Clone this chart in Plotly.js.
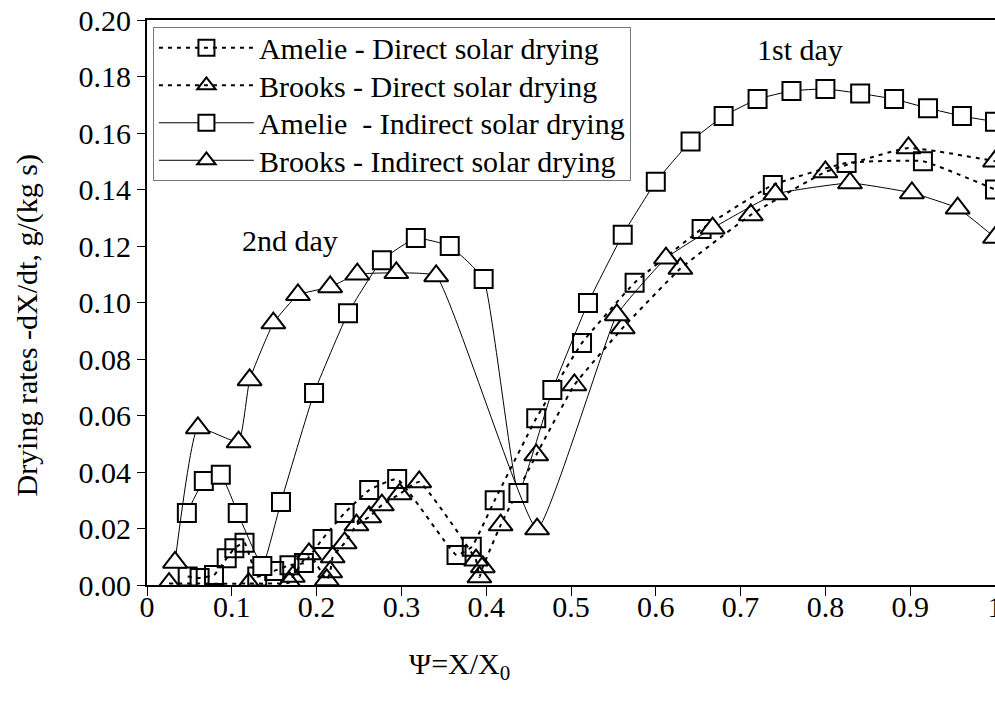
<!DOCTYPE html>
<html><head><meta charset="utf-8">
<script src="https://cdn.plot.ly/plotly-3.0.1.min.js"></script>
<style>html,body{margin:0;padding:0;background:#fff;}#chart{width:995px;height:704px;}</style>
</head><body><div id="chart"></div>
<script>
// Amelie - Direct solar drying
const amelieDirectX = [0.048, 0.062, 0.079, 0.094, 0.103, 0.115, 0.130, 0.150, 0.168, 0.185, 0.207, 0.233, 0.262, 0.295, 0.365, 0.383, 0.410, 0.459, 0.513, 0.575, 0.654, 0.738, 0.825, 0.915, 1.000];
const amelieDirectY = [0.0030, 0.0025, 0.0035, 0.0095, 0.0130, 0.0150, 0.0030, 0.0050, 0.0070, 0.0078, 0.0163, 0.0255, 0.0336, 0.0375, 0.0106, 0.0135, 0.0300, 0.0590, 0.0857, 0.1070, 0.1260, 0.1416, 0.1494, 0.1500, 0.1400];
// Brooks - Direct solar drying
const brooksDirectX = [0.026, 0.120, 0.168, 0.172, 0.191, 0.212, 0.216, 0.219, 0.233, 0.247, 0.262, 0.277, 0.298, 0.321, 0.388, 0.392, 0.396, 0.417, 0.459, 0.504, 0.561, 0.629, 0.712, 0.800, 0.898, 1.000];
const brooksDirectY = [0.0005, 0.0005, 0.0008, 0.0030, 0.0110, 0.0018, 0.0046, 0.0099, 0.0149, 0.0212, 0.0241, 0.0283, 0.0322, 0.0365, 0.0088, 0.0028, 0.0064, 0.0212, 0.0460, 0.0708, 0.0910, 0.1120, 0.1310, 0.1462, 0.1547, 0.1500];
// Amelie - Indirect solar drying
const amelieIndirectX = [0.047, 0.067, 0.087, 0.107, 0.136, 0.158, 0.197, 0.237, 0.277, 0.317, 0.357, 0.397, 0.438, 0.478, 0.520, 0.561, 0.600, 0.641, 0.680, 0.720, 0.760, 0.800, 0.841, 0.881, 0.921, 0.961, 1.000];
const amelieIndirectY = [0.0255, 0.0368, 0.0390, 0.0255, 0.0067, 0.0294, 0.0680, 0.0962, 0.1150, 0.1228, 0.1200, 0.1083, 0.0326, 0.0690, 0.0998, 0.1240, 0.1427, 0.1570, 0.1660, 0.1720, 0.1749, 0.1756, 0.1740, 0.1720, 0.1688, 0.1660, 0.1640];
// Brooks - Indirect solar drying
const brooksIndirectX = [0.033, 0.060, 0.108, 0.121, 0.149, 0.178, 0.216, 0.248, 0.294, 0.341, 0.460, 0.554, 0.612, 0.667, 0.741, 0.829, 0.902, 0.956, 1.000];
const brooksIndirectY = [0.0080, 0.0556, 0.0506, 0.0726, 0.0927, 0.1027, 0.1055, 0.1100, 0.1105, 0.1094, 0.0198, 0.0956, 0.1157, 0.1263, 0.1384, 0.1423, 0.1388, 0.1334, 0.1230];

const seriesNames = ['Amelie - Direct solar drying', 'Brooks - Direct solar drying', 'Amelie  - Indirect solar drying', 'Brooks - Indirect solar drying'];
const xTickVals = [0, 0.1, 0.2, 0.3, 0.4, 0.5, 0.6, 0.7, 0.8, 0.9, 1];
const xTickText = ['0', '0.1', '0.2', '0.3', '0.4', '0.5', '0.6', '0.7', '0.8', '0.9', '1'];
const yTickVals = [0, 0.02, 0.04, 0.06, 0.08, 0.10, 0.12, 0.14, 0.16, 0.18, 0.20];

const FONT = "'Liberation Serif', 'Times New Roman', Times, serif";
function mk(name, x, y, sym, dashed) {
  return {
    type: 'scatter', mode: 'lines+markers', name: name, x: x, y: y,
    line: dashed ? {color: '#000', width: 2, dash: '4px,5px', shape: 'spline', smoothing: 0.35}
                 : {color: '#000', width: 1, shape: 'spline', smoothing: 0.35},
    marker: {
      symbol: dashed ? sym + '-open' : sym,
      size: sym === 'square' ? 18 : 21,
      color: dashed ? '#000' : '#fff',
      line: {color: '#000', width: 2}
    },
    cliponaxis: true
  };
}
const data = [
  mk(seriesNames[0], amelieDirectX, amelieDirectY, 'square', true),
  mk(seriesNames[1], brooksDirectX, brooksDirectY, 'triangle-up', true),
  mk(seriesNames[2], amelieIndirectX, amelieIndirectY, 'square', false),
  mk(seriesNames[3], brooksIndirectX, brooksIndirectY, 'triangle-up', false)
];
const layout = {
  width: 995, height: 704,
  margin: {l: 147, r: 0, t: 20, b: 119},
  paper_bgcolor: '#fff', plot_bgcolor: '#fff',
  font: {family: FONT, size: 28, color: '#000'},
  showlegend: true,
  legend: {
    x: 0.007, y: 0.988, xanchor: 'left', yanchor: 'top',
    bgcolor: '#fff', bordercolor: '#777', borderwidth: 1,
    font: {family: FONT, size: 30, color: '#000'},
    itemwidth: 95, tracegroupgap: 0
  },
  xaxis: {
    range: [0, 1], tickvals: xTickVals, ticktext: xTickText,
    showgrid: false, zeroline: false,
    showline: true, linecolor: '#000', linewidth: 2, mirror: true,
    ticks: 'outside', ticklen: 9, tickcolor: '#000', tickwidth: 1,
    tickfont: {family: FONT, size: 30, color: '#000'},
    ticklabelstandoff: -15, ticklabeloverflow: 'allow'
  },
  yaxis: {
    range: [0, 0.2], tickvals: yTickVals, tickformat: '.2f',
    showgrid: false, zeroline: false,
    showline: true, linecolor: '#000', linewidth: 2,
    ticks: 'outside', ticklen: 8, tickcolor: '#000', tickwidth: 1,
    tickfont: {family: FONT, size: 30, color: '#000'}
  },
  annotations: [
    {xref: 'paper', yref: 'paper', x: -0.141, y: 0.46, text: 'Drying rates -dX/dt, g/(kg s)', textangle: -90,
     showarrow: false, font: {family: FONT, size: 30, color: '#000'}, xanchor: 'center', yanchor: 'middle'},
    {xref: 'paper', yref: 'paper', x: 0.368, y: -0.107, text: 'Ψ=X/X<sub>0</sub>',
     showarrow: false, font: {family: FONT, size: 30, color: '#000'}, xanchor: 'center', yanchor: 'top'},
    {xref: 'x', yref: 'y', x: 0.77, y: 0.1895, text: '1st day', showarrow: false,
     font: {family: FONT, size: 30, color: '#000'}},
    {xref: 'x', yref: 'y', x: 0.169, y: 0.122, text: '2nd day', showarrow: false,
     font: {family: FONT, size: 30, color: '#000'}}
  ]
};
Plotly.newPlot('chart', data, layout, {displayModeBar: false, staticPlot: true}).then(function (gd) {
  // tighten legend row spacing to match the reference (rows ~37.5px apart)
  const rowGap = 37.5, firstRow = 21, boxH = 153;
  const traces = gd.querySelectorAll('.legend .traces');
  traces.forEach(function (t, i) {
    const tr = t.getAttribute('transform') || '';
    const m = tr.match(/translate\(\s*([-\d.e]+)[ ,]+([-\d.e]+)\s*\)/);
    const x = m ? parseFloat(m[1]) : 0;
    t.setAttribute('transform', 'translate(' + x + ',' + (firstRow + i * rowGap) + ')');
  });
  const bg = gd.querySelector('.legend .bg');
  if (bg) bg.setAttribute('height', boxH);
});
</script>
</body></html>
